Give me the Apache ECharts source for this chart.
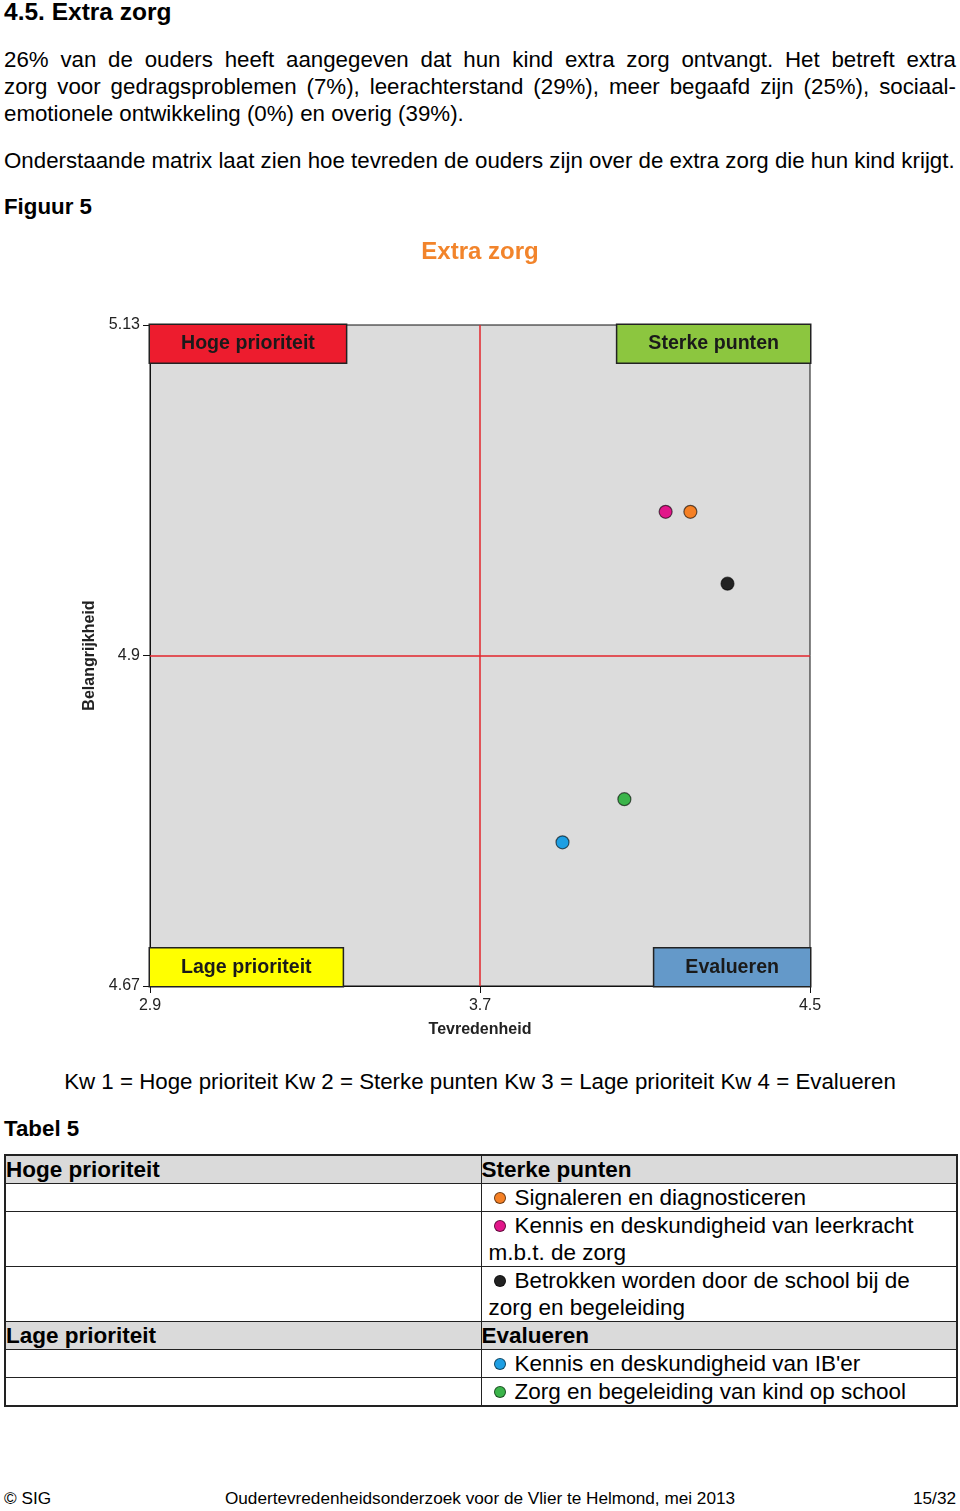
<!DOCTYPE html>
<html><head><meta charset="utf-8">
<script src="https://cdn.jsdelivr.net/npm/echarts@6/dist/echarts.min.js"></script>
<style>
html,body{margin:0;padding:0;background:#fff;}
body{width:960px;height:1511px;position:relative;overflow:hidden;font-family:'Liberation Sans',Arial,sans-serif;color:#000;}
.t{position:absolute;left:4px;white-space:nowrap;font-size:22.3px;line-height:27px;}
.j{width:952px;text-align:justify;text-align-last:justify;white-space:normal;}
.b{font-weight:bold;}
#chart{position:absolute;left:0;top:220px;width:960px;height:830px;}
#tbl{position:absolute;left:4px;top:1154px;width:952px;border-collapse:collapse;font-size:22.5px;line-height:27px;table-layout:fixed;border:2px solid #222;}
#tbl td{border:1px solid #222;padding:0;vertical-align:top;overflow:hidden;}
#tbl tr.h td{background:#dadada;font-weight:bold;}
#tbl td.it{padding-left:7px;padding-right:2px;}
.dot{display:inline-block;width:10px;height:10px;border-radius:50%;border:1px solid rgba(0,0,0,0.55);margin-left:5px;margin-right:9px;vertical-align:1px;}
.foot{position:absolute;top:1488px;font-size:17.2px;line-height:20px;white-space:nowrap;}
</style></head>
<body>
<div class="t b" style="top:-2px;font-size:24.5px;line-height:28px;">4.5. Extra zorg</div>
<div class="t j" style="top:45.7px;">26% van de ouders heeft aangegeven dat hun kind extra zorg ontvangt. Het betreft extra</div>
<div class="t j" style="top:72.7px;">zorg voor gedragsproblemen (7%), leerachterstand (29%), meer begaafd zijn (25%), sociaal-</div>
<div class="t" style="top:99.7px;">emotionele ontwikkeling (0%) en overig (39%).</div>
<div class="t" style="top:146.7px;">Onderstaande matrix laat zien hoe tevreden de ouders zijn over de extra zorg die hun kind krijgt.</div>
<div class="t b" style="top:192.7px;">Figuur 5</div>
<div id="chart"></div>
<div id="kw" class="t" style="top:1067.7px;left:0;width:960px;text-align:center;"></div>
<div class="t b" style="top:1114.7px;">Tabel 5</div>
<table id="tbl"><colgroup><col style="width:476px"><col style="width:476px"></colgroup><tbody id="tb"></tbody></table>
<div class="foot" style="left:4px;">© SIG</div>
<div class="foot" style="left:0;width:960px;text-align:center;">Oudertevredenheidsonderzoek voor de Vlier te Helmond, mei 2013</div>
<div class="foot" style="right:4px;">15/32</div>
<script>
// ---- data ----
const chartTitle = 'Extra zorg';
const quadrantNames = ['Hoge prioriteit', 'Sterke punten', 'Lage prioriteit', 'Evalueren'];
const itemNames = [
  'Signaleren en diagnosticeren',
  'Kennis en deskundigheid van leerkracht m.b.t. de zorg',
  'Betrokken worden door de school bij de zorg en begeleiding',
  "Kennis en deskundigheid van IB'er",
  'Zorg en begeleiding van kind op school'
];
const tevredenheid = [4.21, 4.15, 4.30, 3.90, 4.05];
const belangrijkheid = [5.00, 5.00, 4.95, 4.77, 4.80];
const xTicks = [2.9, 3.7, 4.5];
const yTicks = [4.67, 4.9, 5.13];
const xName = 'Tevredenheid';
const yName = 'Belangrijkheid';

// ---- styles ----
const itemColors = ['#f58025', '#e2168a', '#222222', '#1e9fe3', '#3bb44a'];
const quadColors = ['#ed1c2e', '#8cc63f', '#ffff00', '#6499c9'];

const xMid = xTicks[1], yMid = yTicks[1];
function quadrant(i) {
  const x = tevredenheid[i], y = belangrijkheid[i];
  if (y >= yMid) return x >= xMid ? 1 : 0;
  return x >= xMid ? 3 : 2;
}

// legend line
document.getElementById('kw').textContent = quadrantNames.map((n, i) => 'Kw ' + (i + 1) + ' = ' + n).join(' ');

// table
const groups = [[], [], [], []];
itemNames.forEach((n, i) => groups[quadrant(i)].push(i));
let html = '';
[[0, 1], [2, 3]].forEach(([a, b]) => {
  html += '<tr class="h"><td>' + quadrantNames[a] + '</td><td>' + quadrantNames[b] + '</td></tr>';
  const n = Math.max(groups[a].length, groups[b].length);
  for (let r = 0; r < n; r++) {
    const cell = (g) => {
      const i = groups[g][r];
      if (i === undefined) return '<td class="it"></td>';
      return '<td class="it"><span class="dot" style="background:' + itemColors[i] + '"></span>' + itemNames[i] + '</td>';
    };
    html += '<tr>' + cell(a) + cell(b) + '</tr>';
  }
});
document.getElementById('tb').innerHTML = html;

// chart
const G = { left: 150, top: 105, right: 150, bottom: 64 };
const W = 960, H = 830;
const boxFont = 'bold 19.6px "Liberation Sans", Arial, sans-serif';
const boxes = quadrantNames.map((name, q) => {
  const right = q === 1 || q === 3;
  const bottom = q >= 2;
  return {
    type: 'text',
    x: right ? W - G.right : G.left,
    y: bottom ? H - G.bottom : G.top,
    z: 10,
    style: {
      text: name,
      font: boxFont,
      fill: '#1a1a1a',
      backgroundColor: quadColors[q],
      borderColor: '#222',
      borderWidth: 1.5,
      padding: [8.7, 31, 8.7, 31],
      align: right ? 'right' : 'left',
      verticalAlign: bottom ? 'bottom' : 'top'
    }
  };
});

const redLine = { color: '#e3262c', width: 1.5, type: 'solid' };
const chart = echarts.init(document.getElementById('chart'), null, { renderer: 'canvas' });
chart.setOption({
  animation: false,
  textStyle: { fontFamily: '"Liberation Sans", Arial, sans-serif' },
  title: {
    text: chartTitle, left: 'center', top: 15,
    textStyle: { color: '#f2842b', fontSize: 24, fontWeight: 'bold' }
  },
  grid: {
    left: G.left, top: G.top, right: G.right, bottom: G.bottom,
    show: true, backgroundColor: '#dcdcdc', borderColor: '#111', borderWidth: 1
  },
  xAxis: {
    type: 'value', min: xTicks[0], max: xTicks[xTicks.length - 1],
    name: xName, nameLocation: 'middle', nameGap: 36,
    nameTextStyle: { fontSize: 16, fontWeight: 'bold', color: '#222' },
    axisLine: { show: true, lineStyle: { color: '#111', width: 1 } },
    axisTick: { show: true, length: 7, customValues: xTicks, lineStyle: { color: '#111' } },
    axisLabel: { customValues: xTicks, fontSize: 16, color: '#222', margin: 12 },
    splitLine: { show: false }
  },
  yAxis: {
    type: 'value', min: yTicks[0], max: yTicks[yTicks.length - 1],
    name: yName, nameLocation: 'middle', nameGap: 52, nameRotate: 90,
    nameTextStyle: { fontSize: 16, fontWeight: 'bold', color: '#222' },
    axisLine: { show: true, lineStyle: { color: '#111', width: 1 } },
    axisTick: { show: true, length: 7, customValues: yTicks, lineStyle: { color: '#111' } },
    axisLabel: { customValues: yTicks, fontSize: 16, color: '#222', margin: 10 },
    splitLine: { show: false }
  },
  graphic: boxes,
  series: [{
    type: 'scatter',
    symbol: 'circle',
    symbolSize: 13,
    data: itemNames.map((n, i) => ({
      name: n,
      value: [tevredenheid[i], belangrijkheid[i]],
      itemStyle: { color: itemColors[i], borderColor: 'rgba(0,0,0,0.6)', borderWidth: 1.2, opacity: 1 }
    })),
    markLine: {
      silent: true, symbol: 'none', animation: false,
      label: { show: false },
      lineStyle: redLine,
      data: [{ xAxis: xMid, lineStyle: redLine }, { yAxis: yMid, lineStyle: redLine }]
    },
    z: 5
  }]
});
</script>
</body></html>
